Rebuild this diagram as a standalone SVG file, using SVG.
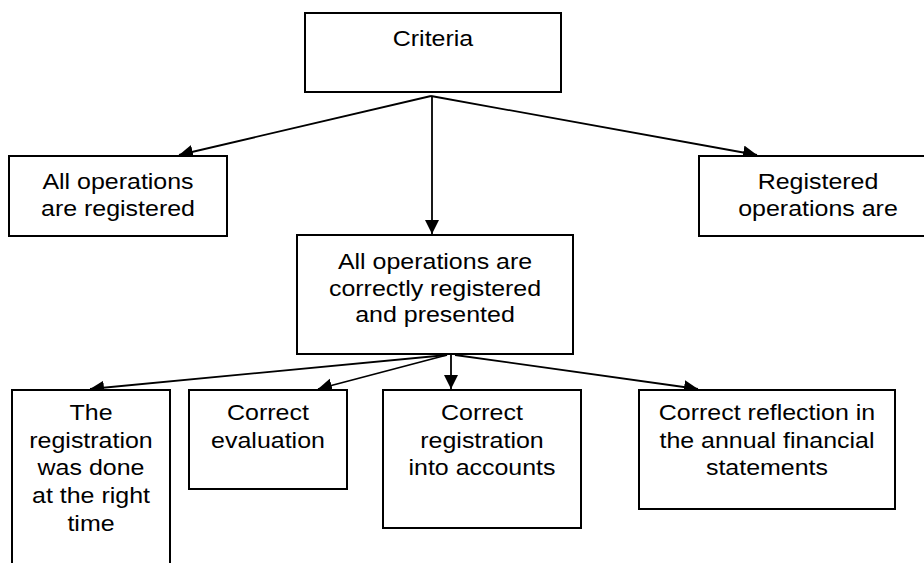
<svg xmlns="http://www.w3.org/2000/svg" width="924" height="563" viewBox="0 0 924 563">
  <defs>
    <marker id="arrow" markerUnits="userSpaceOnUse" markerWidth="15" markerHeight="15" refX="14" refY="7" orient="auto">
      <path d="M0,0 L14,7 L0,14 z" fill="#000"/>
    </marker>
    <style>
      .box { fill: #fff; stroke: #000; stroke-width: 2; }
      .lbl { font-family: "Liberation Sans", Arial, sans-serif; font-size: 22.3px; fill: #000; text-anchor: middle; }
      .conn line { stroke: #000; stroke-width: 1.8; fill: none; marker-end: url(#arrow); }
    </style>
  </defs>
  <rect x="0" y="0" width="924" height="563" fill="#fff"/>

  <g id="connectors" class="conn">
    <line x1="431" y1="96" x2="179" y2="155"/>
    <line x1="431" y1="96" x2="757" y2="155"/>
    <line x1="432" y1="96" x2="432" y2="234"/>
    <line x1="447" y1="355" x2="90" y2="389"/>
    <line x1="447" y1="355" x2="318" y2="389"/>
    <line x1="451" y1="355" x2="451" y2="389"/>
    <line x1="455" y1="355" x2="698" y2="389"/>
  </g>

  <g id="criteria">
    <rect class="box" x="305" y="13" width="256" height="79"/>
    <text class="lbl" transform="translate(433,46) scale(1.12,1)"><tspan x="0" y="0">Criteria</tspan></text>
  </g>

  <g id="all-registered">
    <rect class="box" x="9" y="156" width="218" height="80"/>
    <text class="lbl" transform="translate(118,189) scale(1.12,1)"><tspan x="0" y="0">All operations</tspan><tspan x="0" y="27">are registered</tspan></text>
  </g>

  <g id="registered-operations">
    <rect class="box" x="699" y="156" width="240" height="80"/>
    <text class="lbl" transform="translate(818,189) scale(1.12,1)"><tspan x="0" y="0">Registered</tspan><tspan x="0" y="27">operations are</tspan></text>
  </g>

  <g id="correctly-registered">
    <rect class="box" x="297" y="235" width="276" height="119"/>
    <text class="lbl" transform="translate(435,269) scale(1.12,1)"><tspan x="0" y="0">All operations are</tspan><tspan x="0" y="26.7">correctly registered</tspan><tspan x="0" y="53.4">and presented</tspan></text>
  </g>

  <g id="right-time">
    <rect class="box" x="12" y="390" width="158" height="200"/>
    <text class="lbl" transform="translate(91,420) scale(1.12,1)"><tspan x="0" y="0">The</tspan><tspan x="0" y="27.7">registration</tspan><tspan x="0" y="55.3">was done</tspan><tspan x="0" y="83">at the right</tspan><tspan x="0" y="110.7">time</tspan></text>
  </g>

  <g id="correct-evaluation">
    <rect class="box" x="189" y="390" width="158" height="99"/>
    <text class="lbl" transform="translate(268,420) scale(1.12,1)"><tspan x="0" y="0">Correct</tspan><tspan x="0" y="28">evaluation</tspan></text>
  </g>

  <g id="correct-registration">
    <rect class="box" x="383" y="390" width="198" height="138"/>
    <text class="lbl" transform="translate(482,420) scale(1.12,1)"><tspan x="0" y="0">Correct</tspan><tspan x="0" y="28">registration</tspan><tspan x="0" y="55">into accounts</tspan></text>
  </g>

  <g id="correct-reflection">
    <rect class="box" x="639" y="390" width="256" height="119"/>
    <text class="lbl" transform="translate(767,420) scale(1.12,1)"><tspan x="0" y="0">Correct reflection in</tspan><tspan x="0" y="28">the annual financial</tspan><tspan x="0" y="55">statements</tspan></text>
  </g>
</svg>
